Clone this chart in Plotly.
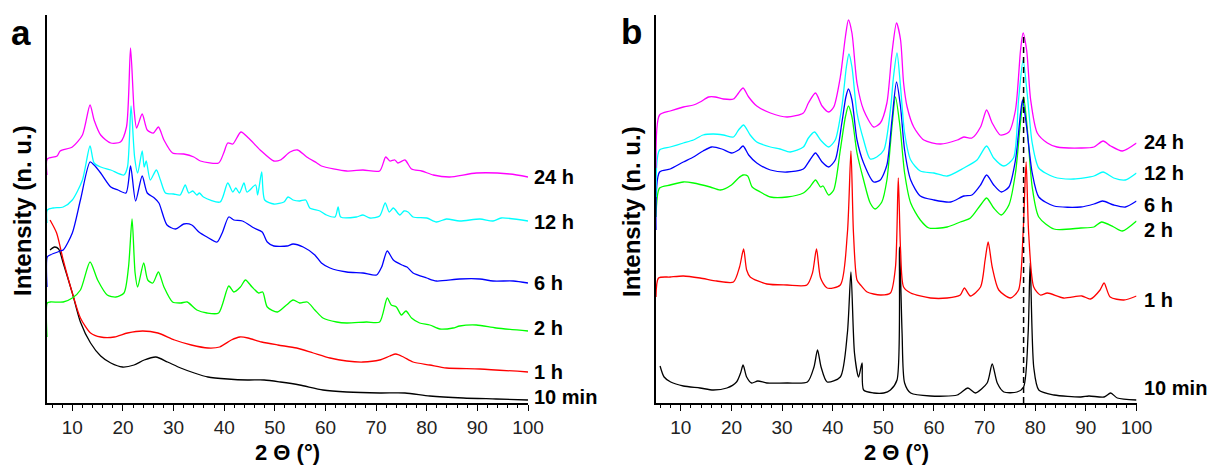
import plotly.graph_objects as go

# ---------------- DATA ----------------
# intensities are in arbitrary units with the stacking offsets included
labels = ["24 h", "12 h", "6 h", "2 h", "1 h", "10 min"]
colors = ["#FF00FF", "#00FFFF", "#0000FF", "#00FF00", "#FF0000", "#000000"]

# ---- panel a ----
a_24h_x = [5.0, 5.05, 7, 7.6, 10, 12, 13.5, 14.3, 15.6, 17.6, 19.5, 20.7, 21.5, 22.2, 22.7, 23.8, 24.8, 26, 27, 28.1,
           29.8, 32, 34, 35.3, 38.9, 39.9, 40.7, 41.7, 43.3, 44.8, 47.1, 49.8, 51.1, 53, 54.5, 56.3, 58.3, 59.2, 64.2,
           67.4, 70.7, 71.9, 72.7, 73.7, 74.3, 75.7, 77, 79, 81.3, 84.5, 89.8, 96.4, 100]
a_24h_y = [228, 244, 247, 252, 256, 268, 298, 283, 268, 260, 261, 276, 355, 293, 275, 289, 273, 270, 276, 263,
           250, 249, 246, 242, 240, 250, 260, 259, 271, 265, 253, 242, 243, 251, 253, 246, 240, 237, 232,
           233, 232, 246, 242, 243, 240, 243, 234, 232, 228, 226, 230, 229, 226]

a_12h_x = [5.0, 5.05, 6.2, 8.2, 10, 12, 13.5, 14.3, 15.6, 17.6, 20.2, 20.9, 21.6, 22.3, 22.9, 23.8, 24.2, 24.6, 25.4,
           26.6, 27.4, 28.4, 30, 31.3, 32.3, 33, 33.8, 34.6, 35.1, 35.9, 39.2, 40.7, 41.7, 42.3, 43, 43.9, 44.5, 46.2,
           46.6, 47.4, 48, 49.8, 51.8, 52.6, 53.6, 54.9, 56.1, 56.9, 58.9, 60.2, 61.9, 62.5, 63, 66.1, 67.4, 68.8,
           70.7, 71.8, 72.6, 73.4, 74.7, 75.5, 76.3, 77.3, 80, 81.9, 83.9, 86.5, 90.5, 93.1, 94.7, 100]
a_12h_y = [180, 193, 195, 196, 203, 223, 257, 240, 236, 233, 228, 236, 297, 246, 230, 252, 236, 242, 223,
           233, 223, 210, 209, 208, 218, 210, 212, 208, 210, 206, 201, 220, 211, 215, 210, 220, 211, 218,
           208, 231, 203, 199, 201, 206, 203, 202, 203, 195, 192, 188, 186, 196, 186, 186, 188, 185,
           187, 200, 191, 195, 188, 192, 191, 186, 185, 181, 184, 182, 184, 182, 185, 182]

a_6h_x = [5.0, 5.05, 5.6, 7.6, 8.2, 10, 11.6, 13.5, 14.3, 15.6, 17.6, 19, 20.6, 21.5, 22.5, 23.8, 24.8, 26.2, 27.1,
          28.7, 30.4, 32, 33.6, 35, 36.6, 38.6, 39.6, 40.9, 41.9, 43.6, 45.9, 47.5, 48.5, 49.8, 52.4, 53.6, 55.6,
          57.9, 59.2, 60.9, 64.2, 67.4, 70.1, 71.1, 72.2, 73.4, 75.1, 76.1, 77.3, 80, 81.9, 86.5, 90.5, 93.1, 97.1, 100]
a_6h_y = [116, 146, 148, 152, 153, 170, 203, 241, 238, 230, 216, 213, 210, 237, 202, 227, 210, 205, 200,
          178, 174, 179, 178, 171, 166, 161, 170, 186, 183, 182, 175, 171, 161, 157, 157, 159, 156,
          148, 140, 135, 131, 130, 128, 136, 152, 143, 138, 136, 130, 125, 122, 124, 124, 122, 122, 120]

a_2h_x = [5.0, 5.05, 5.6, 8.2, 10, 11.6, 13.5, 15, 16.9, 18.6, 20.2, 21.1, 21.8, 22.4, 22.9, 24.1, 24.9, 25.9, 27,
          28.1, 29.8, 31.4, 32.7, 34.6, 36.6, 38.9, 40.9, 41.9, 43.2, 44.2, 45.5, 46.8, 47.6, 48.5, 50.5, 52.3,
          53.6, 54.9, 56.4, 57.9, 59.5, 62.2, 64.2, 68.1, 70.7, 72.2, 73, 74, 75, 75.9, 77, 78.6, 80.6, 82.6,
          85.2, 86.5, 89.8, 93.7, 100]
a_2h_y = [66, 100, 101, 101, 105, 113, 141, 123, 108, 106, 110, 136, 184, 130, 116, 140, 123, 120, 131,
          116, 101, 100, 101, 93, 90, 90, 117, 111, 116, 123, 116, 110, 111, 96, 91, 98,
          103, 100, 101, 93, 85, 81, 80, 81, 81, 105, 98, 96, 88, 92, 85, 80, 78, 74,
          75, 77, 78, 75, 72]

a_1h_x = [5.6, 6.9, 8.2, 10, 11.6, 13.6, 15.6, 18.3, 20.9, 23.9, 26.9, 30.2, 33.5, 36.8, 39.1, 41.4, 43.1, 44.7,
          47.4, 50.6, 54.3, 57.6, 60.9, 64.2, 67.4, 70.7, 72.7, 73.9, 75.4, 77.3, 80.6, 83.9, 90.5, 100]
a_1h_y = [183, 170, 143, 110, 85, 70, 66, 66, 70, 72, 70, 63, 58, 55, 56, 63, 66, 65,
          61, 58, 55, 50, 45, 42, 41, 43, 47, 49, 46, 41, 38, 35, 34, 31]

a_10m_x = [5.6, 6.5, 7.3, 8.2, 10, 11.6, 13.6, 15.6, 17.6, 19.9, 22.2, 24.2, 26.5, 28.8, 31.4, 34.1, 36.8, 40.7,
           44.6, 47.9, 51.1, 54.9, 59.5, 64.2, 70.7, 75.7, 80.6, 87.2, 93.7, 100]
a_10m_y = [153, 156, 154, 140, 110, 81, 60, 47, 40, 36, 38, 43, 46, 41, 35, 30, 26, 24,
           23, 23, 21, 18, 13, 11, 10, 10, 7, 5, 4, 3]

# ---- panel b ----
b_24h_x = [5.1, 5.8, 7.9, 10.5, 12.5, 13.8, 15.5, 16.8, 18.4, 20.4, 21.4, 22.3, 23.4, 25, 27.7, 31, 34.2, 35.2,
           36.6, 37.9, 39.2, 40.2, 41.5, 42.5, 43.1, 43.8, 44.8, 46.1, 48.1, 49.4, 50.7, 51.7, 52.6, 53.4, 54,
           54.7, 56, 58, 61.3, 64.6, 65.9, 67.5, 69.2, 70.4, 71.5, 73.1, 74.8, 76.1, 77.1, 77.6, 78.3, 79.1,
           80.4, 82.4, 84.3, 89, 91.6, 93.4, 94.9, 97.2, 100]
b_24h_y = [235, 288, 292, 296, 298, 301, 306, 306, 304, 304, 310, 315, 306, 297, 290, 286, 290, 300,
           310, 297, 291, 296, 326, 366, 383, 370, 320, 293, 276, 280, 300, 350, 380, 363, 320,
           296, 276, 263, 259, 263, 266, 265, 276, 293, 280, 268, 271, 293, 353, 370, 353, 303,
           270, 260, 256, 255, 256, 262, 257, 252, 260]

b_12h_x = [5.1, 5.8, 7.9, 10.5, 12.5, 14.4, 16.4, 18.4, 20.4, 21.4, 22.4, 23.7, 25, 27.7, 29.6, 31.6, 34.2, 35.2,
           36.4, 37.6, 39.2, 40.5, 41.8, 42.7, 43.2, 43.8, 44.8, 46.1, 47.4, 48.7, 50.1, 51.4, 52, 52.7, 53.4,
           54.2, 55.4, 57.3, 60, 62.6, 65.9, 68.5, 70.4, 71.8, 73.8, 75.7, 76.7, 77.6, 78.4, 79.4, 80.7, 83.7,
           87.6, 91.6, 93.4, 95.5, 97.8, 100]
b_12h_y = [206, 253, 256, 260, 263, 268, 269, 268, 266, 273, 278, 268, 261, 256, 254, 251, 256, 265,
           271, 263, 256, 263, 296, 336, 349, 336, 290, 263, 244, 246, 253, 293, 326, 350, 316,
           270, 243, 232, 230, 227, 235, 243, 257, 245, 237, 245, 303, 343, 310, 260, 235, 226,
           224, 227, 231, 225, 223, 230]

b_6h_x = [5.1, 5.8, 7.9, 10.5, 12.5, 14.4, 16.1, 18.1, 20, 21.4, 22.3, 23.4, 25, 27.7, 31, 34.2, 35.5, 36.6, 37.9,
          39.2, 40.5, 41.8, 42.6, 43.1, 43.8, 44.8, 46.1, 48.1, 49.4, 50.7, 51.7, 52.6, 53.4, 54.2, 55.4, 57.3,
          60, 63.3, 65.9, 67.5, 69.2, 70.4, 71.8, 73.3, 74.8, 76.1, 77.1, 77.5, 78.3, 79.4, 80.7, 83.7, 89,
          91.6, 93.3, 95.5, 97.8, 100]
b_6h_y = [173, 231, 234, 241, 246, 252, 256, 254, 250, 253, 257, 248, 240, 233, 231, 234, 243, 250, 241,
          236, 243, 280, 306, 314, 303, 263, 240, 221, 223, 238, 283, 321, 296, 253, 223, 207,
          203, 201, 207, 208, 218, 228, 218, 211, 216, 243, 290, 303, 276, 230, 206, 197, 196,
          199, 202, 198, 196, 202]

b_2h_x = [5.1, 5.8, 7.9, 10.5, 12.5, 15.8, 17.8, 20, 21.4, 22.3, 23.2, 24.1, 25.7, 27.7, 31, 34.2, 35.5, 36.6,
          37.6, 38.1, 39.2, 40.2, 41.5, 42.5, 43.1, 43.8, 44.8, 46.1, 47.4, 48.4, 49.7, 50.7, 51.7, 52.4, 53.3,
          54.2, 55.4, 57.3, 59, 62.6, 65.2, 67.2, 69.2, 70.4, 71.8, 73.3, 74.8, 76.1, 77, 77.7, 78.4, 79.4,
          80.7, 83.7, 89, 91.6, 93.1, 95.5, 97.2, 100]
b_2h_y = [186, 215, 218, 221, 220, 216, 213, 218, 225, 228, 227, 216, 211, 206, 206, 210, 216, 223,
          216, 217, 208, 213, 253, 286, 297, 286, 250, 223, 200, 194, 201, 223, 276, 306, 276,
          230, 200, 183, 175, 176, 181, 185, 198, 205, 195, 188, 198, 230, 276, 306, 276, 216,
          186, 174, 175, 176, 181, 176, 172, 182]

b_1h_x = [5.1, 5.6, 7.9, 10.5, 13.8, 17.1, 20.4, 21.6, 22.4, 23, 23.7, 27, 31, 34.9, 36, 36.8, 37.6, 38.9, 41.5,
          42.9, 43.6, 44.1, 44.8, 45.5, 46.8, 49.4, 51.4, 52.4, 52.95, 53.4, 54, 55.4, 59.3, 62.6, 65.2, 66,
          67.2, 69.2, 70.1, 70.7, 71.5, 72.8, 75.1, 76.7, 77.6, 78.2, 78.7, 79.7, 81, 82.4, 85.6, 89.2, 90.9,
          92.8, 93.6, 94.8, 97.5, 100]
b_1h_y = [106, 125, 126, 127, 125, 122, 121, 136, 154, 133, 126, 119, 118, 118, 130, 154, 125, 115, 118,
          170, 252, 170, 123, 118, 111, 108, 110, 136, 225, 153, 116, 110, 105, 105, 108, 115,
          107, 116, 143, 161, 136, 113, 105, 113, 170, 241, 170, 116, 108, 110, 105, 107, 104,
          113, 120, 106, 103, 107]

b_10m_x = [5.9, 6.7, 8, 10.5, 13.8, 16.4, 19.1, 21, 21.8, 22.3, 23, 24, 25.2, 27, 31, 35, 36.3, 37, 37.7, 38.9,
           41.5, 42.9, 43.6, 44.3, 45.1, 45.8, 46.1, 48.1, 50.1, 51.4, 52.7, 53.2, 53.7, 54.2, 55.4, 59.3, 64.6,
           66.7, 68.2, 70.5, 71.5, 72.5, 73.8, 76.4, 77.7, 78.6, 79, 79.7, 80.7, 83.7, 89, 90.6, 93.6, 94.9,
           96.2, 100]
b_10m_y = [37, 26, 21, 17, 15, 13, 15, 21, 30, 38, 26, 20, 22, 20, 20, 21, 36, 53, 36, 21,
           26, 70, 131, 50, 26, 40, 13, 10, 10, 13, 23, 156, 70, 20, 10, 7, 8,
           15, 10, 20, 39, 20, 11, 11, 16, 70, 140, 36, 13, 8, 6, 7, 6, 10,
           5, 3]

# reference line position (2-theta) and its top in panel b
ref_line_2theta = 77.7
ref_line_top = 368

x_ticks = [10, 20, 30, 40, 50, 60, 70, 80, 90, 100]

panel_a = [(a_24h_x, a_24h_y), (a_12h_x, a_12h_y), (a_6h_x, a_6h_y),
           (a_2h_x, a_2h_y), (a_1h_x, a_1h_y), (a_10m_x, a_10m_y)]
panel_b = [(b_24h_x, b_24h_y), (b_12h_x, b_12h_y), (b_6h_x, b_6h_y),
           (b_2h_x, b_2h_y), (b_1h_x, b_1h_y), (b_10m_x, b_10m_y)]

# ---------------- FIGURE ----------------
W, H = 1207, 466
FONT = "Arial, 'Liberation Sans', sans-serif"

fig = go.Figure()

line_style = dict(width=1.3, shape="spline", smoothing=0.7)
for i in reversed(range(6)):
    xs, ys = panel_a[i]
    fig.add_trace(go.Scatter(x=xs, y=ys, mode="lines", xaxis="x", yaxis="y",
                             line=dict(color=colors[i], **line_style), showlegend=False,
                             hoverinfo="skip"))
for i in reversed(range(6)):
    xs, ys = panel_b[i]
    fig.add_trace(go.Scatter(x=xs, y=ys, mode="lines", xaxis="x2", yaxis="y2",
                             line=dict(color=colors[i], **line_style), showlegend=False,
                             hoverinfo="skip"))

# dashed reference line in panel b
fig.add_trace(go.Scatter(x=[ref_line_2theta, ref_line_2theta], y=[0, ref_line_top], mode="lines",
                         xaxis="x2", yaxis="y2", line=dict(color="black", width=1.5, dash="6px,4px"),
                         showlegend=False, hoverinfo="skip"))


def px_x(p):
    return p / W


def px_y(p):
    return 1 - p / H


y_bot, y_top = 403, 15
xaxis_common = dict(range=[5, 100], showline=True, linecolor="black", linewidth=1.5, automargin=False,
                    ticks="outside", ticklen=6, tickwidth=1.3, tickcolor="black",
                    tickvals=x_ticks, showgrid=False, zeroline=False,
                    tickfont=dict(family=FONT, size=19, color="#222"),
                    minor=dict(dtick=2, tick0=0, ticks="outside", ticklen=3, tickwidth=1.1,
                               tickcolor="black", showgrid=False),
                    fixedrange=True)
yaxis_common = dict(range=[0, 388], showline=True, linecolor="black", linewidth=1.5, automargin=False,
                    showticklabels=False, ticks="", showgrid=False, zeroline=False, fixedrange=True)

fig.update_layout(
    width=W, height=H, autosize=False,
    margin=dict(l=0, r=0, t=0, b=0, pad=0, autoexpand=False),
    paper_bgcolor="white", plot_bgcolor="white",
    xaxis=dict(domain=[px_x(47), px_x(528)], anchor="y", **xaxis_common),
    yaxis=dict(domain=[px_y(y_bot), px_y(y_top)], anchor="x", **yaxis_common),
    xaxis2=dict(domain=[px_x(655.5), px_x(1136.5)], anchor="y2", **xaxis_common),
    yaxis2=dict(domain=[px_y(y_bot), px_y(y_top)], anchor="x2", **yaxis_common),
)

ann = []
a_shift = [0, -1, 0, 3, 0, 3]
b_shift = [1, 0, -4, -9, -4, 12]
for i, lab in enumerate(labels):
    ann.append(dict(x=100, y=panel_a[i][1][-1], xref="x", yref="y", text=lab, showarrow=False,
                    xanchor="left", yanchor="middle", xshift=4, yshift=a_shift[i],
                    font=dict(family=FONT, size=20, color="black", weight="bold")))
    ann.append(dict(x=100, y=panel_b[i][1][-1], xref="x2", yref="y2", text=lab, showarrow=False,
                    xanchor="left", yanchor="middle", xshift=5, yshift=b_shift[i],
                    font=dict(family=FONT, size=20, color="black", weight="bold")))

for cx in (287.5, 896):
    ann.append(dict(x=px_x(cx), y=px_y(452), xref="paper", yref="paper", text="<b>2 Θ (°)</b>",
                    showarrow=False, xanchor="center", yanchor="middle",
                    font=dict(family=FONT, size=22, color="black")))
for cx in (23, 632):
    ann.append(dict(x=px_x(cx), y=px_y(211), xref="paper", yref="paper", text="<b>Intensity (n. u.)</b>",
                    showarrow=False, xanchor="center", yanchor="middle", textangle=-90,
                    font=dict(family=FONT, size=24, color="black")))
ann.append(dict(x=px_x(21), y=px_y(33), xref="paper", yref="paper", text="<b>a</b>", showarrow=False,
                xanchor="center", yanchor="middle", font=dict(family=FONT, size=35, color="black")))
ann.append(dict(x=px_x(632), y=px_y(31), xref="paper", yref="paper", text="<b>b</b>", showarrow=False,
                xanchor="center", yanchor="middle", font=dict(family=FONT, size=35, color="black")))

fig.update_layout(annotations=ann)
fig.write_html("out.html", config={"responsive": False, "displayModeBar": False},
               post_script="document.documentElement.style.overflow='hidden';"
                           "document.body.style.margin='0px';document.body.style.padding='0px';"
                           "document.body.style.overflow='hidden';")
